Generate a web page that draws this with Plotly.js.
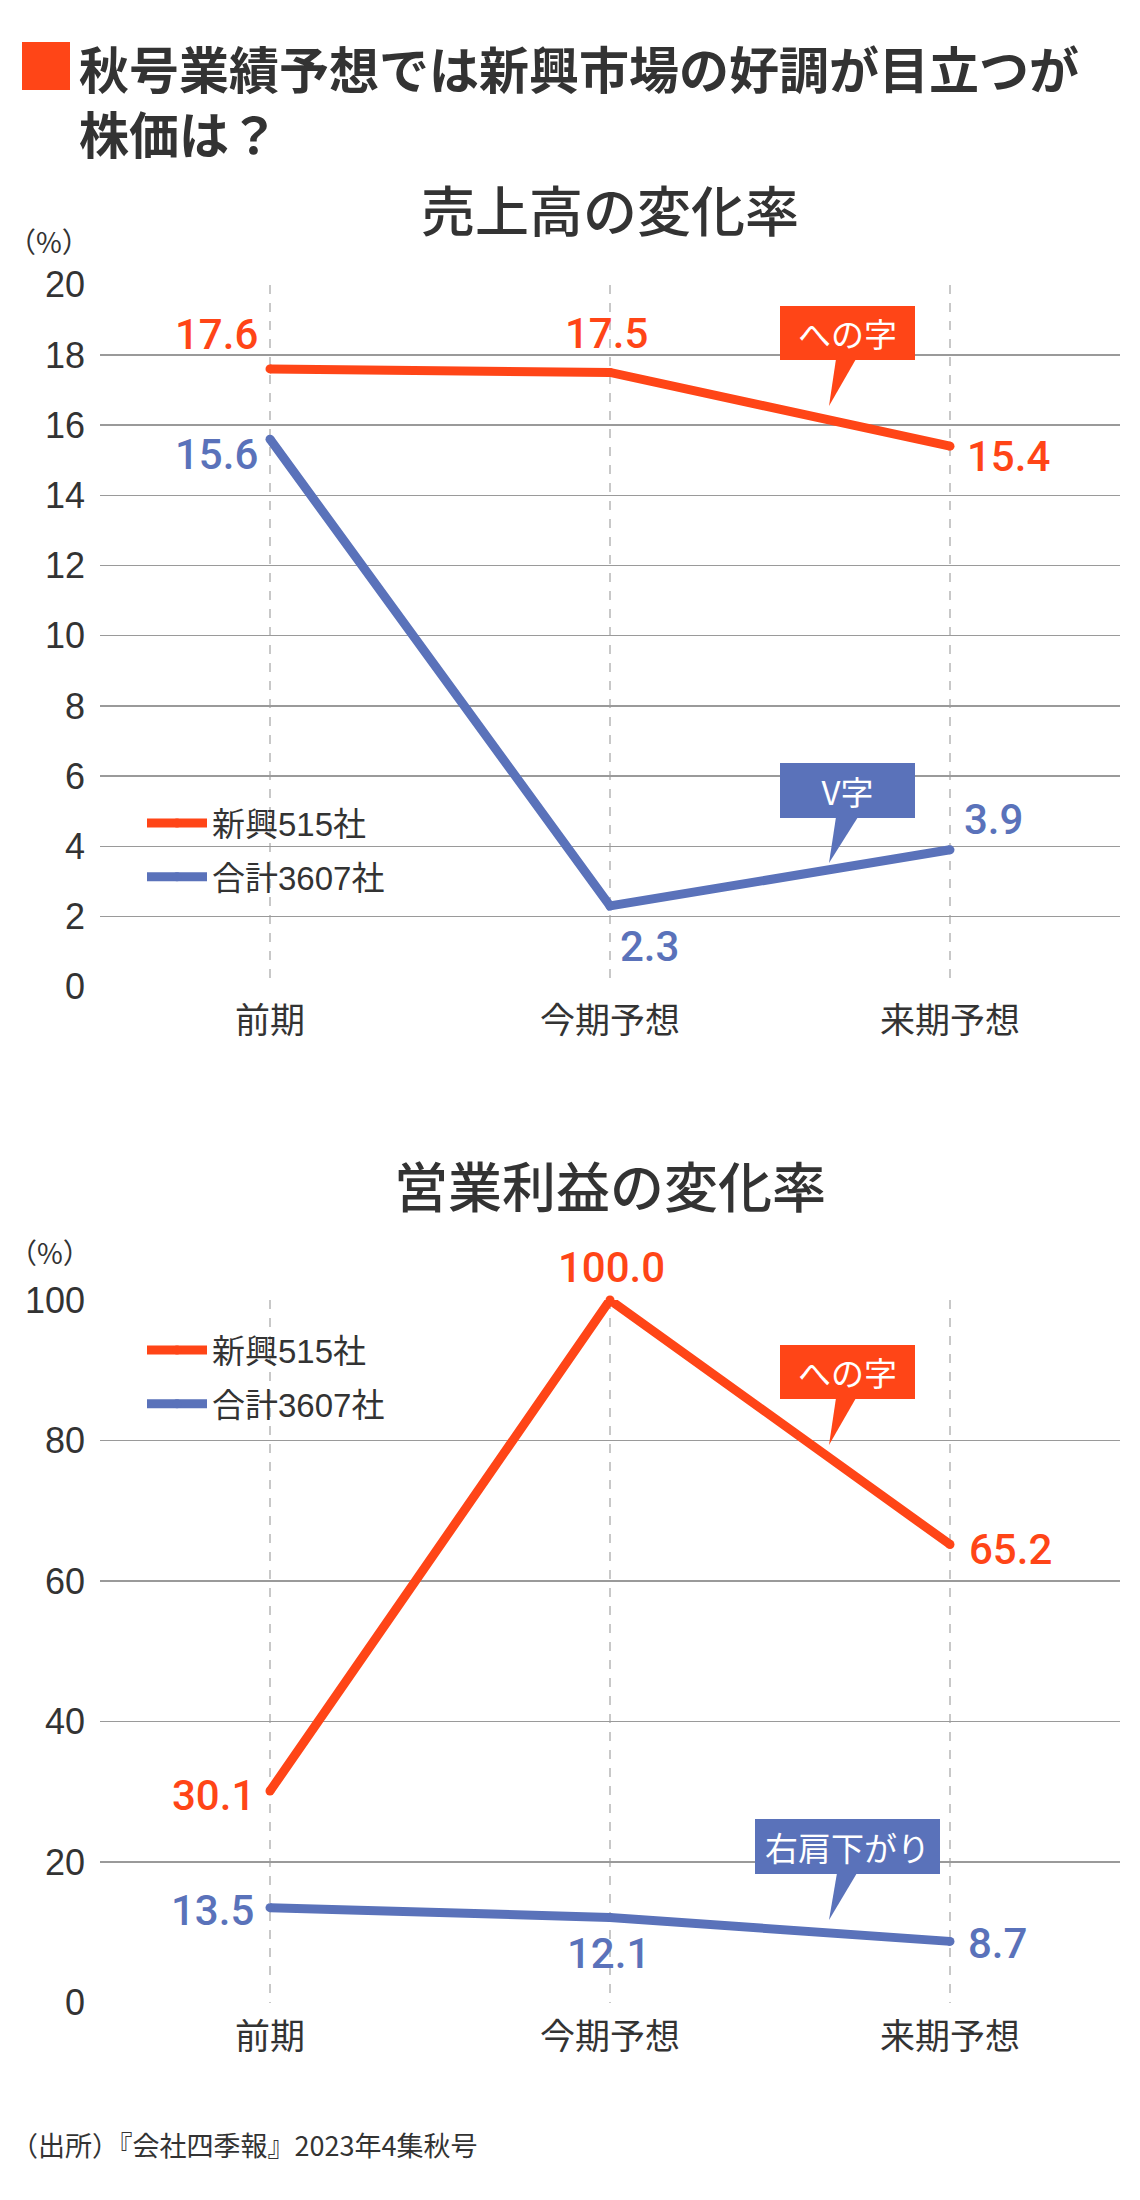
<!DOCTYPE html>
<html>
<head>
<meta charset="utf-8">
<script src="https://cdn.plot.ly/plotly-3.0.1.min.js"></script>
<style>
  html, body { margin: 0; padding: 0; background: #ffffff; }
  #chart { width: 1140px; height: 2200px; }
</style>
</head>
<body>
<div id="chart"></div>
<script>
// ---------- data ----------
const categories = ['前期', '今期予想', '来期予想'];
const seriesNames = ['新興515社', '合計3607社'];
const salesShinko = [17.6, 17.5, 15.4];
const salesTotal = [15.6, 2.3, 3.9];
const profitShinko = [30.1, 100.0, 65.2];
const profitTotal = [13.5, 12.1, 8.7];
const salesTicks = [0, 2, 4, 6, 8, 10, 12, 14, 16, 18, 20];
const profitTicks = [0, 20, 40, 60, 80, 100];
const mainTitle1 = '秋号業績予想では新興市場の好調が目立つが';
const mainTitle2 = '株価は？';
const salesTitle = '売上高の変化率';
const profitTitle = '営業利益の変化率';
const unitLabel = '（%）';
const sourceText = '（出所）『会社四季報』2023年4集秋号';
const calloutTexts = ['への字', 'V字', 'への字', '右肩下がり'];

// ---------- styles ----------
const ORANGE = '#FF4517';
const BLUE = '#5A72BA';
const DARK = '#333333';
const W = 1140, H = 2200;
const NUM_FONT = 'Liberation Sans, Arial, Noto Sans CJK JP, sans-serif';
const LABEL_FONT = 'Roboto, Liberation Sans, sans-serif';
const JP_FONT = 'Noto Sans CJK JP, sans-serif';
const MIX_FONT = 'Liberation Sans, Noto Sans CJK JP, sans-serif';
const px = v => v / W;
const py = v => 1 - v / H;

function lineTrace(xa, ya, y, name, color, legend) {
  return {
    type: 'scatter', mode: 'lines+markers', x: categories, y: y, name: name,
    xaxis: xa, yaxis: ya, legend: legend, legendgroup: legend + name,
    line: { color: color, width: 9 },
    marker: { color: color, size: 9 },
    cliponaxis: false, hoverinfo: 'skip'
  };
}

const data = [
  lineTrace('x', 'y', salesShinko, seriesNames[0], ORANGE, 'legend'),
  lineTrace('x', 'y', salesTotal, seriesNames[1], BLUE, 'legend'),
  lineTrace('x2', 'y2', profitShinko, seriesNames[0], ORANGE, 'legend2'),
  lineTrace('x2', 'y2', profitTotal, seriesNames[1], BLUE, 'legend2')
];

// data labels: [xanchor, xshift, yshift] per point
const labelSpec = {
  salesShinko: [['right', -10, 34], ['center', -4, 39], ['left', 15, -10]],
  salesTotal: [['right', -10, -15], ['left', 8, -41], ['left', 12, 30]],
  profitShinko: [['right', -13, -4], ['center', 1, 33], ['left', 17, -5]],
  profitTotal: [['right', -14, -3], ['center', -2, -36], ['left', 16, -2]]
};

const annotations = [];
function addLabels(vals, spec, color, xref, yref) {
  vals.forEach((v, i) => {
    annotations.push({
      xref: xref, yref: yref, x: categories[i], y: v,
      text: v.toFixed(1), showarrow: false,
      xanchor: spec[i][0], yanchor: 'middle',
      xshift: spec[i][1], yshift: spec[i][2],
      font: { family: LABEL_FONT, size: 42, color: color, weight: 500 }
    });
  });
}
addLabels(salesShinko, labelSpec.salesShinko, ORANGE, 'x', 'y');
addLabels(salesTotal, labelSpec.salesTotal, BLUE, 'x', 'y');
addLabels(profitShinko, labelSpec.profitShinko, ORANGE, 'x2', 'y2');
addLabels(profitTotal, labelSpec.profitTotal, BLUE, 'x2', 'y2');

// titles and texts
annotations.push(
  { xref: 'paper', yref: 'paper', x: px(78), y: py(30), xanchor: 'left', yanchor: 'top', showarrow: false,
    align: 'left', text: '<b>' + mainTitle1 + '<br>' + mainTitle2 + '</b>',
    font: { family: JP_FONT, size: 50, color: DARK }, borderpad: 0 },
  { xref: 'paper', yref: 'paper', x: px(610), y: py(209), xanchor: 'center', yanchor: 'middle', showarrow: false,
    text: salesTitle, font: { family: JP_FONT, size: 54, color: DARK, weight: 500 } },
  { xref: 'paper', yref: 'paper', x: px(610), y: py(1184), xanchor: 'center', yanchor: 'middle', showarrow: false,
    text: profitTitle, font: { family: JP_FONT, size: 54, color: DARK, weight: 500 } },
  { xref: 'paper', yref: 'paper', x: px(49), y: py(241), xanchor: 'center', yanchor: 'middle', showarrow: false,
    text: unitLabel, font: { family: JP_FONT, size: 28, color: DARK } },
  { xref: 'paper', yref: 'paper', x: px(50), y: py(1252), xanchor: 'center', yanchor: 'middle', showarrow: false,
    text: unitLabel, font: { family: JP_FONT, size: 28, color: DARK } },
  { xref: 'paper', yref: 'paper', x: px(9), y: py(2144), xanchor: 'left', yanchor: 'middle', showarrow: false,
    text: sourceText, font: { family: JP_FONT, size: 27, color: DARK } }
);

// callouts: [text, color, centerX, centerY, width, height, tail base x0, x1, base y, tip x, tip y]
const callouts = [
  [calloutTexts[0], ORANGE, 847.5, 333, 135, 54, 836, 856, 359, 829, 406],
  [calloutTexts[1], BLUE, 847.5, 790.5, 135, 55, 836, 858, 817, 829, 863],
  [calloutTexts[2], ORANGE, 847.5, 1372, 135, 54, 836, 856, 1398, 829, 1445],
  [calloutTexts[3], BLUE, 847.5, 1846.5, 185, 55, 837, 857, 1873, 829, 1920]
];
const shapes = [
  { type: 'rect', xref: 'paper', yref: 'paper', x0: px(22), x1: px(70), y0: py(90), y1: py(42),
    fillcolor: ORANGE, line: { width: 0 } }
];
callouts.forEach(c => {
  annotations.push({
    xref: 'paper', yref: 'paper', x: px(c[2]), y: py(c[3]), xanchor: 'center', yanchor: 'middle',
    showarrow: false, text: c[0], width: c[4], height: c[5], bgcolor: c[1],
    borderpad: 0, borderwidth: 0, font: { family: JP_FONT, size: 33, color: '#ffffff' }
  });
  shapes.push({
    type: 'path', xref: 'paper', yref: 'paper', layer: 'above',
    path: 'M' + px(c[6]) + ',' + py(c[8]) + ' L' + px(c[7]) + ',' + py(c[8]) + ' L' + px(c[9]) + ',' + py(c[10]) + ' Z',
    fillcolor: c[1], line: { width: 0 }
  });
});

const xCommon = {
  type: 'category', range: [-0.5, 2.5], domain: [px(100), px(1120)],
  showgrid: true, gridcolor: '#c8c8c8', gridwidth: 1.5, griddash: 'dash',
  zeroline: false, showline: false, ticks: '', ticklabelstandoff: 10,
  tickfont: { family: JP_FONT, size: 35, color: DARK }, fixedrange: true
};
const yCommon = {
  showgrid: true, gridcolor: '#9a9a9a', gridwidth: 1.5, zeroline: false, showline: false,
  ticks: '', ticklabelstandoff: 14, tickmode: 'array',
  tickfont: { family: NUM_FONT, size: 36, color: DARK }, fixedrange: true
};

const legendCommon = {
  xref: 'paper', yref: 'paper', xanchor: 'left', yanchor: 'top',
  bgcolor: 'rgba(0,0,0,0)', borderwidth: 0, itemwidth: 60,
  font: { family: MIX_FONT, size: 33, color: DARK },
  traceorder: 'grouped', tracegroupgap: 8, itemclick: false, itemdoubleclick: false
};

const layout = {
  width: W, height: H,
  margin: { l: 0, r: 0, t: 0, b: 0, pad: 0 },
  paper_bgcolor: '#ffffff', plot_bgcolor: '#ffffff',
  showlegend: true,
  xaxis: Object.assign({}, xCommon, { anchor: 'y' }),
  yaxis: Object.assign({}, yCommon, { anchor: 'x', domain: [py(986.7), py(284.7)], range: [0, 20], tickvals: salesTicks }),
  xaxis2: Object.assign({}, xCommon, { anchor: 'y2' }),
  yaxis2: Object.assign({}, yCommon, { anchor: 'x2', domain: [py(2002.5), py(1300)], range: [0, 100], tickvals: profitTicks }),
  legend: Object.assign({}, legendCommon, { x: px(142), y: py(795) }),
  legend2: Object.assign({}, legendCommon, { x: px(142), y: py(1322) }),
  annotations: annotations,
  shapes: shapes
};

Plotly.newPlot('chart', data, layout, { displayModeBar: false, staticPlot: true });
</script>
</body>
</html>
